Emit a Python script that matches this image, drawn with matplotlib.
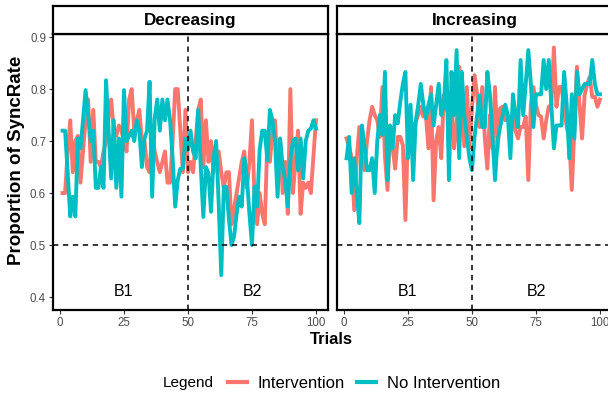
import numpy as np
import matplotlib
matplotlib.use("Agg")
import matplotlib.pyplot as plt
from matplotlib.lines import Line2D

plt.rcParams['font.family'] = ['Liberation Sans', 'DejaVu Sans']

trials = np.arange(1, 101)

dec_int = [0.60, 0.60, 0.68, 0.74, 0.64, 0.70, 0.71, 0.62, 0.68, 0.74,
           0.78, 0.66, 0.76, 0.66, 0.66, 0.65, 0.68, 0.70, 0.75, 0.78,
           0.72, 0.71, 0.73, 0.72, 0.70, 0.68, 0.78, 0.80, 0.72, 0.74,
           0.76, 0.70, 0.70, 0.65, 0.64, 0.72, 0.68, 0.66, 0.64, 0.66,
           0.68, 0.62, 0.62, 0.70, 0.80, 0.80, 0.72, 0.64, 0.76, 0.64,
           0.66, 0.64, 0.70, 0.76, 0.78, 0.65, 0.74, 0.66, 0.70, 0.64,
           0.68, 0.68, 0.64, 0.61, 0.64, 0.64, 0.54, 0.57, 0.60, 0.63,
           0.66, 0.68, 0.61, 0.66, 0.74, 0.59, 0.54, 0.60, 0.56, 0.54,
           0.70, 0.66, 0.72, 0.74, 0.64, 0.70, 0.60, 0.66, 0.56, 0.80,
           0.60, 0.66, 0.72, 0.56, 0.62, 0.61, 0.62, 0.60, 0.67, 0.74]

dec_noint = [0.72, 0.72, 0.64, 0.555, 0.593, 0.555, 0.705, 0.686, 0.74, 0.798,
             0.75, 0.70, 0.72, 0.61, 0.61, 0.65, 0.61, 0.817, 0.72, 0.628,
             0.74, 0.61, 0.705, 0.593, 0.798, 0.70, 0.71, 0.72, 0.70, 0.74,
             0.72, 0.65, 0.705, 0.72, 0.814, 0.593, 0.744, 0.78, 0.72, 0.78,
             0.74, 0.78, 0.74, 0.667, 0.574, 0.625, 0.647, 0.647, 0.705, 0.683,
             0.72, 0.68, 0.667, 0.76, 0.65, 0.554, 0.65, 0.638, 0.564, 0.667,
             0.70, 0.58, 0.442, 0.612, 0.612, 0.55, 0.50, 0.516, 0.56, 0.593,
             0.574, 0.667, 0.631, 0.56, 0.50, 0.612, 0.574, 0.683, 0.72, 0.72,
             0.663, 0.76, 0.74, 0.70, 0.593, 0.705, 0.65, 0.625, 0.574, 0.663,
             0.70, 0.705, 0.644, 0.705, 0.628, 0.70, 0.72, 0.724, 0.74, 0.724]

inc_int = [0.705, 0.69, 0.667, 0.567, 0.667, 0.727, 0.667, 0.644, 0.70, 0.74,
           0.766, 0.75, 0.74, 0.708, 0.804, 0.67, 0.606, 0.727, 0.686, 0.647,
           0.708, 0.708, 0.692, 0.548, 0.72, 0.72, 0.727, 0.737, 0.75, 0.766,
           0.747, 0.75, 0.686, 0.804, 0.586, 0.70, 0.727, 0.667, 0.788, 0.76,
           0.76, 0.785, 0.686, 0.727, 0.843, 0.79, 0.69, 0.804, 0.686, 0.763,
           0.827, 0.79, 0.727, 0.804, 0.708, 0.647, 0.75, 0.686, 0.804, 0.686,
           0.763, 0.766, 0.74, 0.747, 0.747, 0.747, 0.72, 0.705, 0.727, 0.727,
           0.747, 0.625, 0.77, 0.804, 0.77, 0.75, 0.747, 0.705, 0.74, 0.766,
           0.77, 0.88, 0.766, 0.804, 0.804, 0.766, 0.727, 0.705, 0.606, 0.727,
           0.843, 0.772, 0.705, 0.788, 0.81, 0.823, 0.785, 0.785, 0.766, 0.78]

inc_noint = [0.667, 0.708, 0.60, 0.667, 0.60, 0.542, 0.73, 0.692, 0.644, 0.644,
             0.667, 0.60, 0.70, 0.75, 0.712, 0.833, 0.625, 0.73, 0.686, 0.75,
             0.734, 0.776, 0.81, 0.833, 0.667, 0.77, 0.625, 0.737, 0.77, 0.81,
             0.77, 0.744, 0.77, 0.79, 0.73, 0.77, 0.81, 0.75, 0.77, 0.856,
             0.625, 0.833, 0.75, 0.875, 0.667, 0.833, 0.75, 0.708, 0.667, 0.644,
             0.708, 0.75, 0.788, 0.727, 0.727, 0.833, 0.79, 0.708, 0.625, 0.70,
             0.727, 0.75, 0.77, 0.75, 0.667, 0.79, 0.75, 0.727, 0.856, 0.75,
             0.81, 0.875, 0.81, 0.727, 0.79, 0.79, 0.79, 0.856, 0.80, 0.856,
             0.77, 0.686, 0.73, 0.73, 0.73, 0.833, 0.77, 0.667, 0.79, 0.705,
             0.833, 0.79, 0.80, 0.81, 0.81, 0.81, 0.856, 0.81, 0.79, 0.79]

facets = ["Decreasing", "Increasing"]
series = {"Decreasing": (dec_int, dec_noint), "Increasing": (inc_int, inc_noint)}
labels = ["Intervention", "No Intervention"]
colors = ["#F8766D", "#00BFC4"]

W, H = 608, 394
fig = plt.figure(figsize=(6.08, 3.94), dpi=100)

panel_left = [53, 337]
pw = 275
ptop, pbot = 34, 310

for i, name in enumerate(facets):
    x0 = panel_left[i]
    ax = fig.add_axes([x0 / W, 1 - pbot / H, pw / W, (pbot - ptop) / H])
    for vals, c in zip(series[name], colors):
        ax.plot(trials, vals, color=c, lw=2.8, solid_joinstyle='round')
    ax.axhline(0.5, color='black', lw=1.1, dashes=(3.5, 3))
    ax.axvline(50, color='black', lw=1.1, dashes=(3.5, 3))
    ax.text(25, 0.41, "B1", ha='center', va='center', fontsize=11.5)
    ax.text(75, 0.41, "B2", ha='center', va='center', fontsize=11.5)
    ax.set_xlim(-2.73, 104.7)
    ax.set_ylim(0.375, 0.906)
    ax.set_xticks([0, 25, 50, 75, 100])
    ax.set_yticks([0.4, 0.5, 0.6, 0.7, 0.8, 0.9])
    ax.tick_params(colors='#333333', labelcolor='#4D4D4D', labelsize=8.3,
                   length=3, width=0.8, pad=2)
    if i == 1:
        ax.tick_params(axis='y', left=False, labelleft=False)
    for sp in ax.spines.values():
        sp.set_linewidth(1.6)
        sp.set_color('black')

    # facet strip
    sax = fig.add_axes([x0 / W, 1 - ptop / H, pw / W, (ptop - 6) / H])
    sax.set_xticks([])
    sax.set_yticks([])
    for sp in sax.spines.values():
        sp.set_linewidth(1.6)
    sax.text(0.5, 0.5, name, ha='center', va='center', fontsize=12.3,
             fontweight='bold', transform=sax.transAxes)

fig.text(17 / W, 1 - 160 / H, "Proportion of SyncRate", rotation=90,
         ha='center', va='center', fontsize=13.5, fontweight='bold')
fig.text(331 / W, 1 - 340 / H, "Trials", ha='center', va='center',
         fontsize=12, fontweight='bold')

fig.text(188 / W, 1 - 383 / H, "Legend", ha='center', va='center', fontsize=11)
handles = [Line2D([0], [0], color=c, lw=3) for c in colors]
fig.legend(handles, labels, ncol=2, loc='center',
           bbox_to_anchor=(364 / W, 1 - 383 / H), frameon=False,
           fontsize=12, handlelength=1.15, handletextpad=0.65,
           columnspacing=0.75, borderpad=0, borderaxespad=0)

plt.savefig('out.png', dpi=100)
